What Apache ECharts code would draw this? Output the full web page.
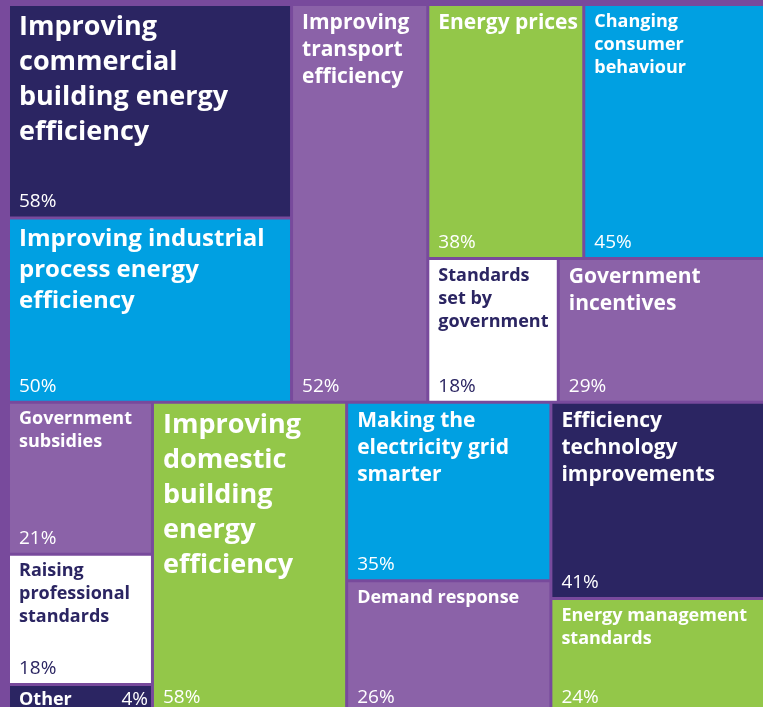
<!DOCTYPE html>
<html>
<head>
<meta charset="utf-8">
<script src="https://cdn.jsdelivr.net/npm/echarts@6/dist/echarts.min.js"></script>
<style>
  html, body { margin: 0; padding: 0; background: #784a9c; }
  #main { width: 763px; height: 707px; }
</style>
</head>
<body>
<div id="main"></div>
<script>
// tile labels (line breaks as in the picture)
let labels = [
    'Improving\ncommercial\nbuilding energy\nefficiency',
    'Improving industrial\nprocess energy\nefficiency',
    'Improving\ntransport\nefficiency',
    'Energy prices',
    'Changing\nconsumer\nbehaviour',
    'Standards\nset by\ngovernment',
    'Government\nincentives',
    'Government\nsubsidies',
    'Raising\nprofessional\nstandards',
    'Other',
    'Improving\ndomestic\nbuilding\nenergy\nefficiency',
    'Making the\nelectricity grid\nsmarter',
    'Demand response',
    'Efficiency\ntechnology\nimprovements',
    'Energy management\nstandards'
];
// percentages
let values = [58, 50, 52, 38, 45, 18, 29, 21, 18, 4, 58, 35, 26, 41, 24];

// how the tiles are grouped: h = side by side, v = stacked
let groups = {
    dir: 'v', children: [
        { dir: 'h', children: [{ dir: 'v', children: [0, 1] }, 2, { dir: 'v', children: [{ dir: 'h', children: [3, 4] }, { dir: 'h', children: [5, 6] }] }] },
        { dir: 'h', children: [{ dir: 'v', children: [7, 8, 9] }, 10, { dir: 'v', children: [11, 12] }, { dir: 'v', children: [13, 14] }] }
    ]
};

let NAVY = '#2b2562', BLUE = '#00a0e2', PURPLE = '#8b62a8', GREEN = '#93c749', WHITE = '#ffffff';
let tileColor = [NAVY, BLUE, PURPLE, GREEN, BLUE, WHITE, PURPLE, PURPLE, WHITE, NAVY, GREEN, BLUE, PURPLE, NAVY, GREEN];
let titleSize = [27, 24, 21, 21, 18, 18, 21, 18, 18, 18, 27, 21, 18, 21, 18];

function nodeValue(node) {
    if (typeof node === 'number') return values[node];
    return node.children.reduce((s, c) => s + nodeValue(c), 0);
}

function layout(node, x, y, w, h, out) {
    if (typeof node === 'number') {
        out[node] = { x: x, y: y, w: w, h: h };
        return;
    }
    let total = nodeValue(node);
    let off = 0;
    node.children.forEach(function (c) {
        let f = nodeValue(c) / total;
        if (node.dir === 'h') {
            layout(c, x + off, y, w * f, h, out);
            off += w * f;
        } else {
            layout(c, x, y + off, w, h * f, out);
            off += h * f;
        }
    });
}

let gap = 3;
let rects = [];

let myChart = echarts.init(document.getElementById('main'));

let option = {
    backgroundColor: '#784a9c',
    animation: false,
    series: [{
        type: 'custom',
        coordinateSystem: 'none',
        data: values.map((v, i) => ({ value: v, name: labels[i] })),
        renderItem: function (params, api) {
            if (params.dataIndex === 0) {
                rects = [];
                // frame runs a little past the right and bottom edges (cropped like the original)
                layout(groups, 8.5, 4.5, api.getWidth() - 3, api.getHeight() + 2, rects);
            }
            let i = params.dataIndex;
            let r = rects[i];
            let x = r.x + gap / 2, y = r.y + gap / 2, w = r.w - gap, h = r.h - gap;
            let isWhite = tileColor[i] === WHITE;
            let txtColor = isWhite ? NAVY : '#ffffff';
            let fs = titleSize[i];
            let lh = Math.round(fs * 1.3);
            let short = h < 45;
            let children = [{
                type: 'rect',
                shape: { x: x, y: y, width: w, height: h },
                style: { fill: tileColor[i] }
            }, {
                type: 'text',
                style: {
                    text: labels[i],
                    x: x + 9,
                    y: y + (short ? 2 : 4),
                    fill: txtColor,
                    fontFamily: 'Open Sans',
                    fontWeight: 'bold',
                    fontSize: fs,
                    lineHeight: lh,
                    align: 'left',
                    verticalAlign: 'top'
                }
            }, {
                type: 'text',
                style: {
                    text: values[i] + '%',
                    x: short ? x + w - 3 : x + 9,
                    y: short ? y + 2 + lh / 2 : y + h - 5,
                    fill: txtColor,
                    fontFamily: 'Open Sans',
                    fontSize: 19,
                    align: short ? 'right' : 'left',
                    verticalAlign: short ? 'middle' : 'bottom'
                }
            }];
            return { type: 'group', children: children };
        }
    }]
};

myChart.setOption(option);
</script>
</body>
</html>
